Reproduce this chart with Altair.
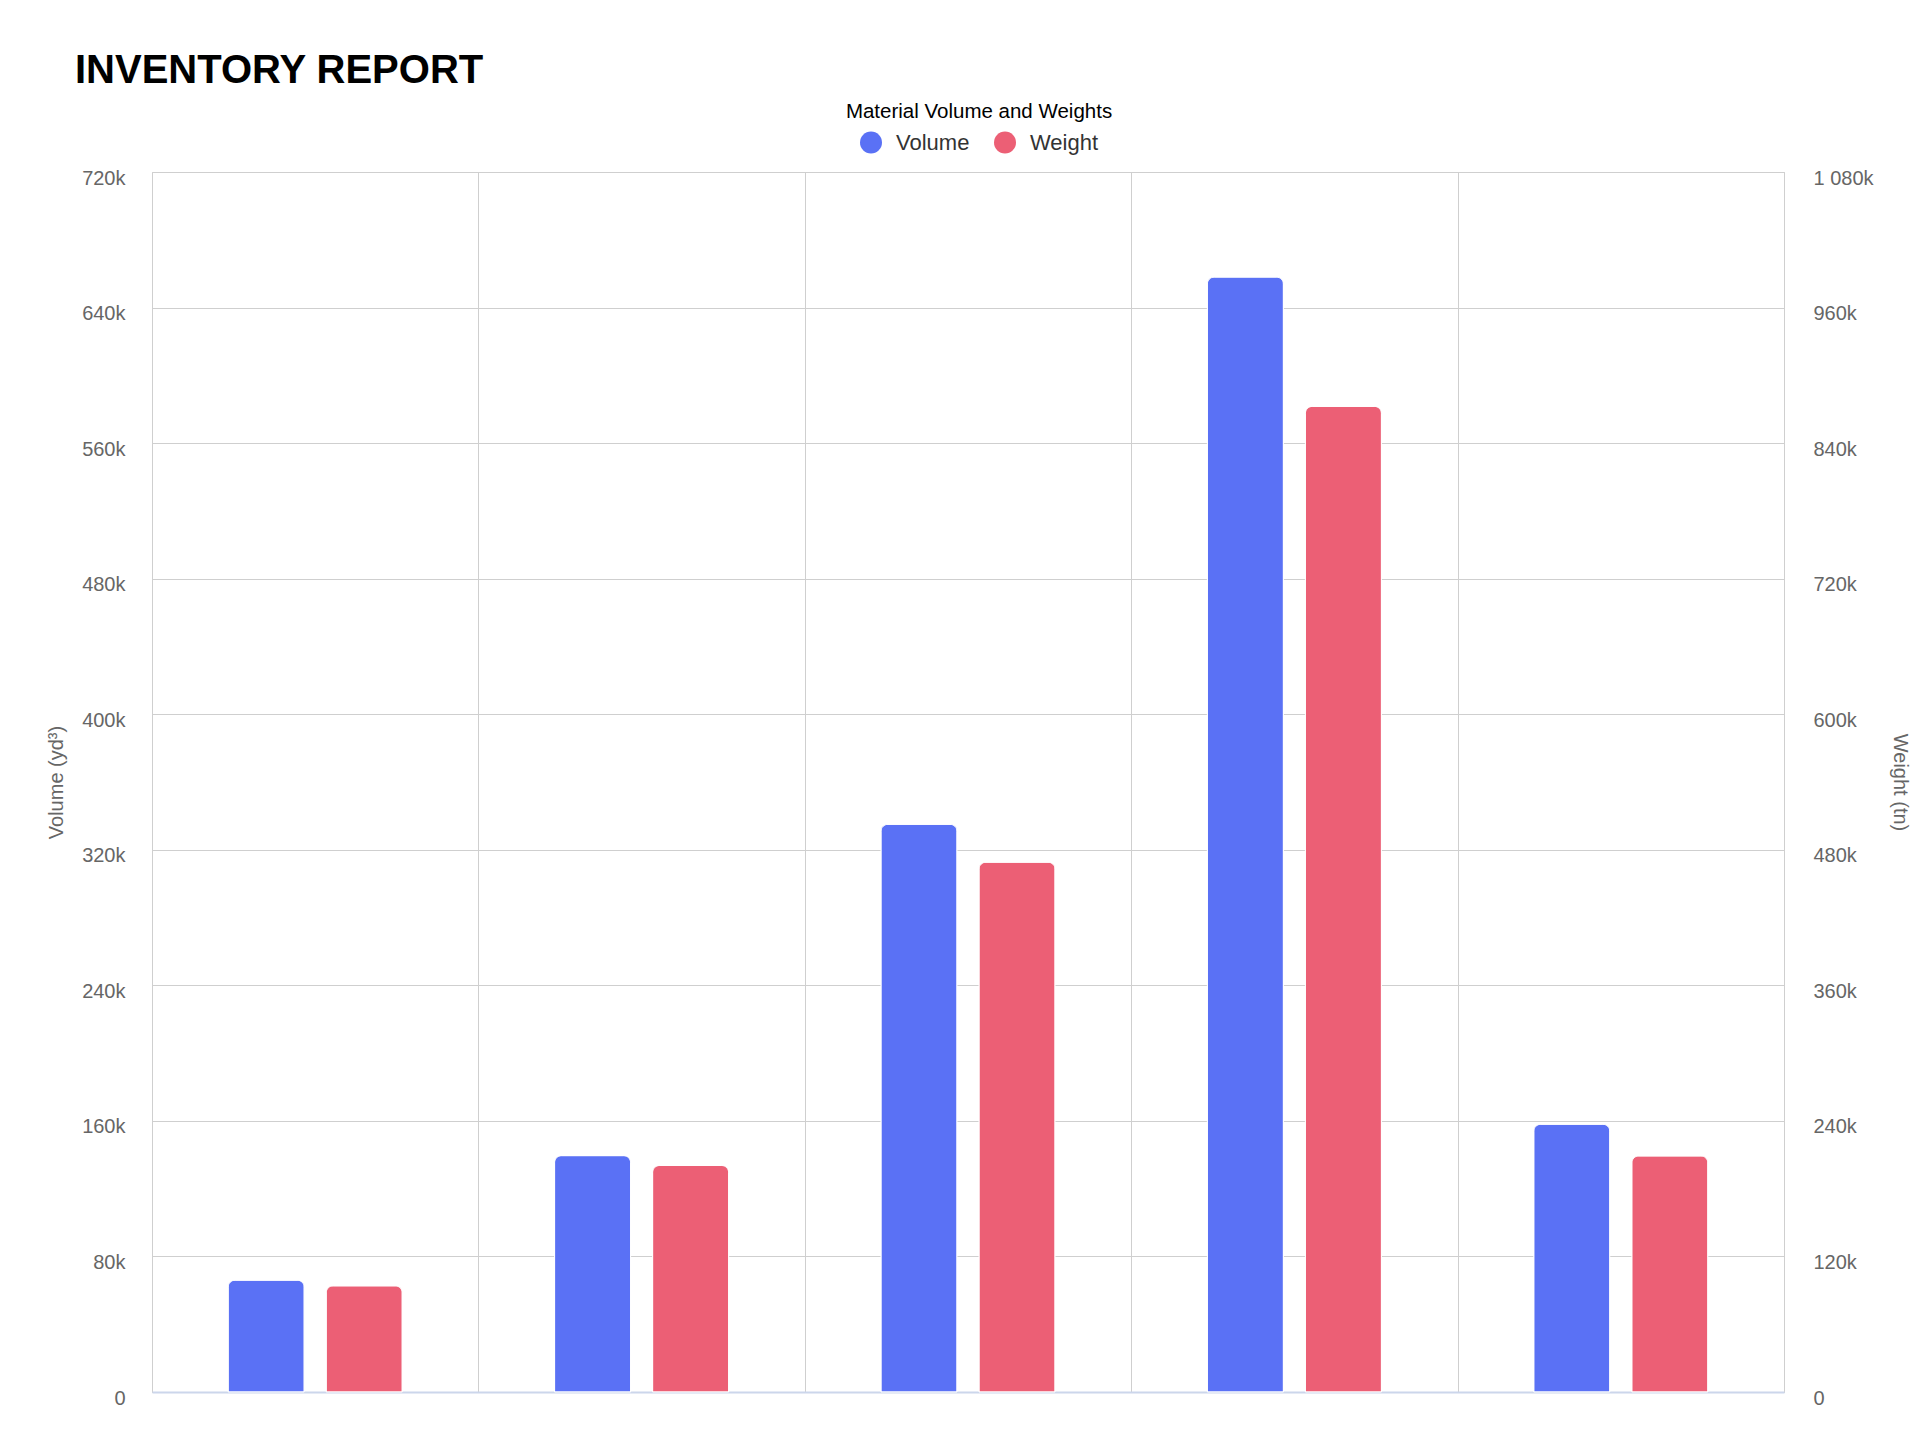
import altair as alt
import pandas as pd

categories = ["Material 1", "Material 2", "Material 3", "Material 4", "Material 5"]
series = ["Volume", "Weight"]
volume = [66000, 139500, 335000, 658000, 158000]
weight = [94000, 200500, 469000, 872500, 209000]
colors = ["#5a71f5", "#ec5f75"]
left_ticks = [0, 80000, 160000, 240000, 320000, 400000, 480000, 560000, 640000, 720000]
right_ticks = [0, 120000, 240000, 360000, 480000, 600000, 720000, 840000, 960000, 1080000]

df = pd.DataFrame({
    "category": categories + categories,
    "series": [series[0]] * len(volume) + [series[1]] * len(weight),
    "value": volume + weight,
})

W = 1632
H = 1220
FONT = "Liberation Sans"
GRID = "#cfcfcf"
label_expr = "datum.value === 0 ? '0' : replace(format(datum.value / 1000, ','), ',', ' ') + 'k'"

x = alt.X(
    "category:N", sort=categories,
    scale=alt.Scale(paddingInner=0, paddingOuter=0),
    axis=alt.Axis(labels=False, ticks=False, title=None, grid=True, gridColor=GRID,
                  gridWidth=1, tickBand="extent", domainColor="#ccd6eb", domainWidth=2),
)
xoff = alt.XOffset("series:N", scale=alt.Scale(domain=series, paddingInner=0.2245, paddingOuter=0.777))
color = alt.Color(
    "series:N", scale=alt.Scale(domain=series, range=colors),
    legend=alt.Legend(
        title="Material Volume and Weights", orient="none", legendX=694, legendY=-70,
        direction="horizontal", titleFontSize=20.5, titleFontWeight="normal", titleColor="#000000",
        titleAnchor="middle", titlePadding=9, titleLimit=600, labelFontSize=22,
        labelColor="#333333", labelLimit=300,
        symbolType="circle", symbolSize=484, symbolStrokeWidth=0, labelOffset=14,
        columnPadding=24, titleFont=FONT, labelFont=FONT,
    ),
)

bar_kw = dict(cornerRadiusTopLeft=7, cornerRadiusTopRight=7, stroke="white", strokeWidth=1)

vol = alt.Chart(df).transform_filter("datum.series == 'Volume'").mark_bar(**bar_kw).encode(
    x=x, xOffset=xoff, color=color,
    y=alt.Y("value:Q", scale=alt.Scale(domain=[0, 720000], nice=False, zero=True),
            axis=alt.Axis(orient="left", values=left_ticks, labelExpr=label_expr,
                          labelFontSize=20, labelColor="#666666", labelPadding=27, labelOffset=6,
                          domain=False, ticks=False, grid=True, gridColor=GRID, gridWidth=1,
                          title="Volume (yd³)", titleFontSize=20, titleColor="#666666",
                          titleFontWeight="normal", titleX=-96, titleY=H / 2, titleAngle=270,
                          titleAlign="center", titleBaseline="middle")),
)

wt = alt.Chart(df).transform_filter("datum.series == 'Weight'").mark_bar(**bar_kw).encode(
    x=x, xOffset=xoff, color=color,
    y=alt.Y("value:Q", scale=alt.Scale(domain=[0, 1080000], nice=False, zero=True),
            axis=alt.Axis(orient="right", values=right_ticks, labelExpr=label_expr,
                          labelFontSize=20, labelColor="#666666", labelPadding=29, labelOffset=6,
                          labelAlign="left", domain=False, ticks=False, grid=False,
                          title="Weight (tn)", titleFontSize=20, titleColor="#666666",
                          titleFontWeight="normal", titleX=115, titleY=H / 2, titleAngle=90,
                          titleAlign="center", titleBaseline="middle")),
)

chart = alt.layer(vol, wt).resolve_scale(y="independent").properties(
    width=W, height=H,
    title=alt.TitleParams("INVENTORY REPORT", anchor="start", frame="group", fontSize=40,
                          fontWeight="bold", font=FONT, color="#000000", baseline="alphabetic",
                          offset=0, dx=-77, dy=21),
    padding={"left": 144, "top": 164, "right": 134, "bottom": 40},
    autosize=alt.AutoSizeParams(type="none"),
).configure(font=FONT).configure_view(stroke=GRID, strokeWidth=1)

chart.save("out.html", embed_options={"renderer": "svg", "actions": False})
